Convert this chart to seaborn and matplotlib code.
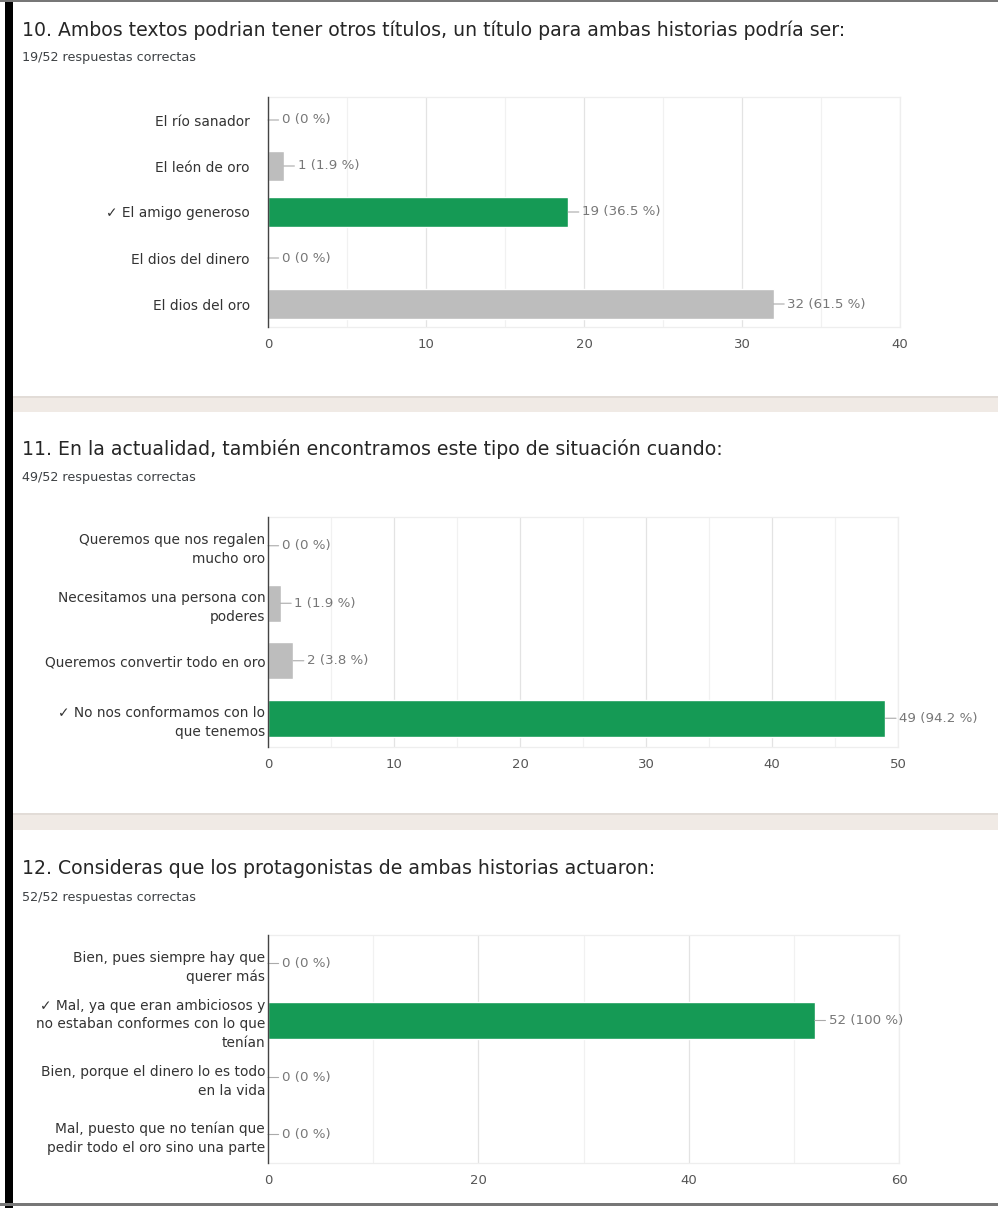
import numpy as np
import pandas as pd
import seaborn as sns
import matplotlib.pyplot as plt
from matplotlib.patches import Rectangle
from matplotlib.ticker import MultipleLocator

total = 52

q10_title = "10. Ambos textos podrian tener otros títulos, un título para ambas historias podría ser:"
q10_score = "19/52 respuestas correctas"
q10_options = ["El río sanador", "El león de oro", "✓ El amigo generoso", "El dios del dinero", "El dios del oro"]
q10_counts = [0, 1, 19, 0, 32]
q10_correct = [False, False, True, False, False]
q10_xticks = [0, 10, 20, 30, 40]

q11_title = "11. En la actualidad, también encontramos este tipo de situación cuando:"
q11_score = "49/52 respuestas correctas"
q11_options = ["Queremos que nos regalen\nmucho oro", "Necesitamos una persona con\npoderes",
               "Queremos convertir todo en oro", "✓ No nos conformamos con lo\nque tenemos"]
q11_counts = [0, 1, 2, 49]
q11_correct = [False, False, False, True]
q11_xticks = [0, 10, 20, 30, 40, 50]

q12_title = "12. Consideras que los protagonistas de ambas historias actuaron:"
q12_score = "52/52 respuestas correctas"
q12_options = ["Bien, pues siempre hay que\nquerer más",
               "✓ Mal, ya que eran ambiciosos y\nno estaban conformes con lo que\ntenían",
               "Bien, porque el dinero lo es todo\nen la vida",
               "Mal, puesto que no tenían que\npedir todo el oro sino una parte"]
q12_counts = [0, 52, 0, 0]
q12_correct = [False, True, False, False]
q12_xticks = [0, 20, 40, 60]

sns.set_style('white')
plt.rcParams['font.family'] = ['DejaVu Sans']

W, H = 998, 1208
fig = plt.figure(figsize=(W / 100, H / 100), dpi=100)
fig.patch.set_facecolor('white')


def px_rect(x0, y0, x1, y1, color, z=0):
    fig.patches.append(Rectangle((x0 / W, 1 - y1 / H), (x1 - x0) / W, (y1 - y0) / H,
                                 transform=fig.transFigure, facecolor=color,
                                 edgecolor='none', zorder=z))


# page decoration: separators, left black bar, top/bottom borders
px_rect(8, 396, W, 412, '#f0eae5')
px_rect(8, 396, W, 397.5, '#e2dcd7')
px_rect(8, 813, W, 830, '#f0eae5')
px_rect(8, 813, W, 814.5, '#e2dcd7')
px_rect(5, 0, 13, H, '#000000', 2)
px_rect(0, 0, W, 2, '#777777', 2)
px_rect(0, 1203, W, 1206, '#777777', 2)

panels = [
    (q10_title, q10_score, q10_options, q10_counts, q10_correct, q10_xticks, 5, 30, 58, 97, 327, 900, 13),
    (q11_title, q11_score, q11_options, q11_counts, q11_correct, q11_xticks, 5, 449, 477, 517, 747, 898, 2),
    (q12_title, q12_score, q12_options, q12_counts, q12_correct, q12_xticks, 10, 868, 897, 935, 1163, 899, 2),
]

for title, score, options, counts, correct, xticks, minor, ty, sy, top, bottom, right, ypad in panels:
    fig.text(22 / W, 1 - ty / H, title, fontsize=13.6, color='#262626',
             va='center', ha='left')
    fig.text(22 / W, 1 - sy / H, score, fontsize=9.2, color='#3c4043',
             va='center', ha='left')

    ax = fig.add_axes([268 / W, 1 - bottom / H, (right - 268) / W, (bottom - top) / H])
    df = pd.DataFrame({'option': options, 'count': counts,
                       'status': ['ok' if c else 'no' for c in correct]})
    sns.barplot(data=df, x='count', y='option', hue='status', orient='h',
                palette={'ok': '#159a55', 'no': '#bdbdbd'}, dodge=False,
                saturation=1, width=0.64, legend=False, ax=ax, zorder=3)
    ax.set_xlim(xticks[0], xticks[-1])
    ax.set_xticks(xticks)
    ax.xaxis.set_minor_locator(MultipleLocator(minor))
    ax.grid(axis='x', which='major', color='#e3e3e3', lw=0.9, zorder=0)
    ax.grid(axis='x', which='minor', color='#f1f1f1', lw=0.9, zorder=0)
    ax.set_axisbelow(True)
    ax.set_xlabel('')
    ax.set_ylabel('')
    ax.tick_params(axis='both', which='both', length=0)
    ax.tick_params(axis='x', labelsize=9.5, labelcolor='#555555', pad=8)
    ax.tick_params(axis='y', labelsize=9.9, labelcolor='#333333', pad=ypad)
    for lab in ax.get_yticklabels():
        lab.set_multialignment('right')
        lab.set_linespacing(1.45)
    for side in ['top', 'right', 'bottom']:
        ax.spines[side].set_color('#eeeeee')
        ax.spines[side].set_linewidth(0.9)
    ax.spines['left'].set_color('#444444')
    ax.spines['left'].set_linewidth(1.0)
    ax.spines['left'].set_zorder(5)

    for i, v in enumerate(counts):
        pct = round(100 * v / total, 1)
        ax.annotate(f"{v} ({pct:g} %)", xy=(v, i), xytext=(10, 0),
                    textcoords='offset points', ha='left', va='center',
                    fontsize=9.6, color='#777777',
                    arrowprops=dict(arrowstyle='-', color='#aaaaaa', lw=0.8,
                                    shrinkA=0, shrinkB=0, relpos=(0, 0.5)))

fig.savefig('out.png', dpi=100, facecolor='white')
